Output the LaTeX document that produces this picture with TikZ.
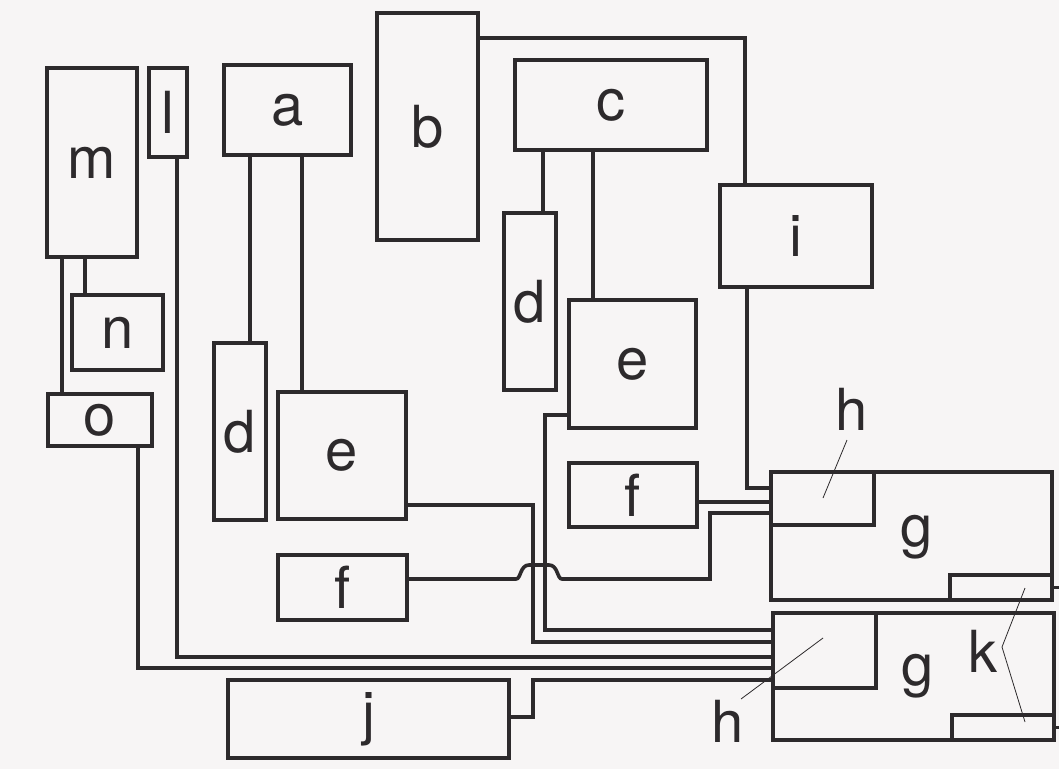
\documentclass[tikz,border=0pt]{standalone}
\usepackage{fontspec}
\newfontfamily\lblfont{TeX Gyre Heros}
\definecolor{ink}{RGB}{45,42,44}
\definecolor{paper}{RGB}{247,245,245}
\begin{document}
\begin{tikzpicture}[x=1pt,y=-1pt,
  box/.style={draw=ink, line width=3.6pt, inner sep=0pt, font=\lblfont\fontsize{58}{60}\selectfont, text=ink},
  lbl/.style={inner sep=0pt, font=\lblfont\fontsize{58}{60}\selectfont, text=ink},
  wire/.style={draw=ink, line width=3.6pt, line join=miter},
  lead/.style={draw=ink, line width=0.8pt}]
\fill[paper] (0,0) rectangle (1059,769);
\useasboundingbox (0,0) rectangle (1059,769);
% boxes
\node[box, minimum width=90,  minimum height=189] (m)  at (92,162.5)   {m};
\node[box, minimum width=38,  minimum height=89]  (l)  at (168,112.5)  {l};
\node[box, minimum width=127, minimum height=90]  (a)  at (287.5,110)  {a};
\node[box, minimum width=101, minimum height=227] (b)  at (427.5,126.5){b};
\node[box, minimum width=192, minimum height=90]  (c)  at (611,105)    {c};
\node[box, minimum width=52,  minimum height=177] (dL) at (240,431.5)  {d};
\node[box, minimum width=128, minimum height=127] (eL) at (342,455.5)  {e};
\node[box, minimum width=129, minimum height=65]  (fL) at (342.5,587.5){f};
\node[box, minimum width=52,  minimum height=177] (dR) at (530,301.5)  {d};
\node[box, minimum width=127, minimum height=128] (eR) at (632.5,364)  {e};
\node[box, minimum width=128, minimum height=64]  (fR) at (633,495)    {f};
\node[box, minimum width=152, minimum height=102] (i)  at (796,236)    {i};
\node[box, minimum width=91,  minimum height=75]  (n)  at (117.5,332.5){n};
\node[box, minimum width=104, minimum height=52]  (o)  at (100,420)    {o};
\node[box, minimum width=281, minimum height=78]  (j)  at (368.5,719)  {j};
\node[box, minimum width=281, minimum height=128] (g1) at (911.5,536)  {};
\node[box, minimum width=103, minimum height=53]  (h1) at (822.5,498.5){};
\node[box, minimum width=102, minimum height=25]  (k1) at (1001,587.5) {};
\node[box, minimum width=281, minimum height=127] (g2) at (913.5,676.5){};
\node[box, minimum width=103, minimum height=75]  (h2) at (824.5,650.5){};
\node[box, minimum width=102, minimum height=25]  (k2) at (1003,727.5) {};
% labels
\node[lbl] (g1lab) at (917,537) {g};
\node[lbl] (g2lab) at (918,676) {g};
\node[lbl] (h1lab) at (852,409) {h};
\node[lbl] (h2lab) at (728,721) {h};
\node[lbl] (klab)  at (983,651) {k};
\coordinate (kv) at (1002,647);
% leader lines
\draw[lead] (847,440) -- (823,498);
\draw[lead] (741,699) -- (823,638);
\draw[lead] (kv) -- (1025,588);
\draw[lead] (kv) -- (1025,722);
% stubs at right edge
\draw[wire] (k1.east) -- (1062,587.5);
\draw[wire] (k2.east) -- (1062,727.5);
% connectors
\draw[wire] (85,0 |- m.south) -- (85,0 |- n.north);
\draw[wire] (62,0 |- m.south) -- (62,0 |- o.north);
\draw[wire] (177,0 |- l.south) -- (177,657) -- (g2.west |- 0,657);
\draw[wire] (138,0 |- o.south) -- (138,668) -- (g2.west |- 0,668);
\draw[wire] (250,0 |- a.south) -- (250,0 |- dL.north);
\draw[wire] (302,0 |- a.south) -- (302,0 |- eL.north);
\draw[wire] (eL.east |- 0,505) -- (533,505) -- (533,642) -- (g2.west |- 0,642);
\draw[wire] (eR.west |- 0,415) -- (545,415) -- (545,630) -- (g2.west |- 0,630);
\draw[wire] (j.east |- 0,717) -- (533,717) -- (533,680) -- (g2.west |- 0,680);
\draw[wire] (543,0 |- c.south) -- (543,0 |- dR.north);
\draw[wire] (593,0 |- c.south) -- (593,0 |- eR.north);
\draw[wire] (b.east |- 0,38) -- (745,38) -- (745,0 |- i.north);
\draw[wire] (747,0 |- i.south) -- (747,488) -- (h1.west |- 0,488);
\draw[wire] (fR.east |- 0,502) -- (h1.west |- 0,502);
\draw[wire] (fL.east |- 0,579) -- (516,579)
  .. controls (521,579) and (520,565) .. (529,565) -- (549,565)
  .. controls (558,565) and (557,579) .. (562,579) -- (710,579) -- (710,513) -- (h1.west |- 0,513);
\end{tikzpicture}
\end{document}
